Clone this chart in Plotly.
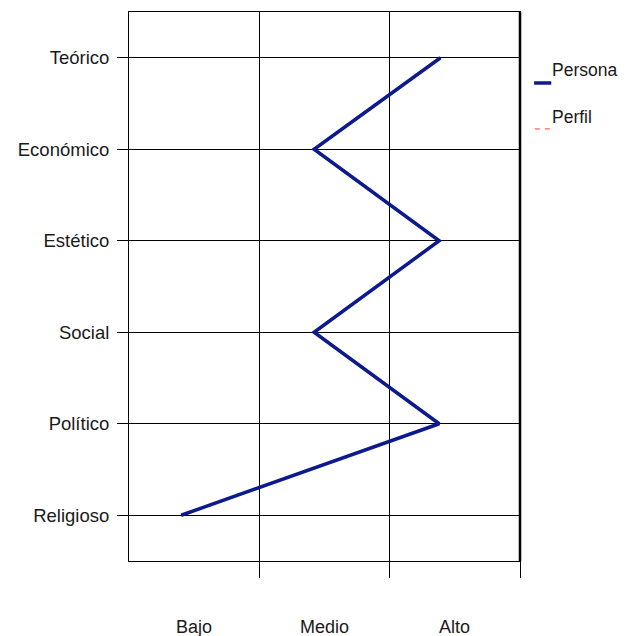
import plotly.graph_objects as go

categories = ["Teórico", "Económico", "Estético", "Social", "Político", "Religioso"]
cat_pos = [6, 5, 4, 3, 2, 1]
persona = [2.39, 1.42, 2.38, 1.42, 2.38, 0.40]
perfil = []
level_labels = ["Bajo", "Medio", "Alto"]
level_pos = [0.5, 1.5, 2.5]

FONT = "Liberation Sans, Arial, sans-serif"
TXT = "#1a1a1a"

fig = go.Figure()
fig.add_trace(go.Scatter(x=persona, y=cat_pos, mode="lines", name="Persona",
                         line=dict(color="#0c1a8e", width=3.5), showlegend=False))
fig.add_trace(go.Scatter(x=perfil, y=[], mode="lines", name="Perfil",
                         line=dict(color="#ff3b2f", width=1, dash="dash"), showlegend=False))

fig.update_layout(
    width=621, height=628,
    margin=dict(l=121, r=109, t=4, b=75),
    paper_bgcolor="white", plot_bgcolor="white",
    font=dict(family=FONT, size=18, color=TXT),
    showlegend=False,
    xaxis=dict(range=[0, 3], tickvals=[1, 2, 3], showticklabels=False,
               ticks="outside", ticklen=16, tickcolor="black", tickwidth=1,
               showgrid=True, gridcolor="black", gridwidth=1, zeroline=False,
               showline=True, linecolor="black", linewidth=1, mirror=True,
               fixedrange=True),
    yaxis=dict(range=[0.5, 6.5], tickvals=cat_pos, ticktext=categories,
               ticks="outside", ticklen=11, tickcolor="black", tickwidth=1,
               showgrid=True, gridcolor="black", gridwidth=1, zeroline=False,
               showline=True, linecolor="black", linewidth=1, mirror=True,
               ticklabelstandoff=4,
               tickfont=dict(family=FONT, size=18.5, color=TXT), fixedrange=True),
)

for lab, pos in zip(level_labels, level_pos):
    fig.add_annotation(x=pos, xref="x", y=-0.12, yref="paper", text=lab,
                       showarrow=False, xanchor="center", yanchor="middle",
                       font=dict(family=FONT, size=18, color=TXT))

# right border thicker
fig.add_shape(type="line", xref="paper", yref="paper", x0=1, x1=1, y0=0, y1=1,
              line=dict(color="black", width=2.5))

# custom legend
fig.add_shape(type="line", xref="paper", yref="paper", x0=1.036, x1=1.080, y0=0.8707, y1=0.8707,
              line=dict(color="#0c1a8e", width=3.5))
fig.add_annotation(x=1.076, xref="paper", y=0.894, yref="paper", text="Persona",
                   showarrow=False, xanchor="left", yanchor="middle",
                   font=dict(family=FONT, size=17.5, color=TXT))
fig.add_shape(type="line", xref="paper", yref="paper", x0=1.038, x1=1.080, y0=0.787, y1=0.787,
              line=dict(color="#ff3b2f", width=1, dash="5px,5px"))
fig.add_annotation(x=1.076, xref="paper", y=0.809, yref="paper", text="Perfil",
                   showarrow=False, xanchor="left", yanchor="middle",
                   font=dict(family=FONT, size=17.5, color=TXT))

fig.write_html("out.html")
